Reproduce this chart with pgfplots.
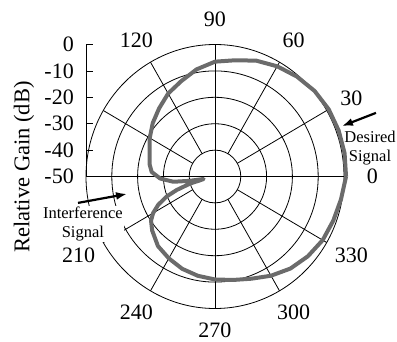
\documentclass[border=0pt]{standalone}
\usepackage{fontspec}
\setmainfont{Liberation Serif}
\usepackage{pgfplots}
\usepackage{pgfplotstable}
\pgfplotsset{compat=1.18}
\usetikzlibrary{arrows.meta}
\definecolor{curvegray}{rgb}{0.42,0.42,0.42}
\pgfplotstableread{
ang db
0 0.8
10 1.0
20 1.0
30 0.9
40 0.4
50 -0.6
60 -1.8
70 -3.3
80 -5.3
90 -6.5
100 -8.8
110 -11.6
120 -13.7
130 -16.3
140 -18.5
150 -20.8
160 -23.0
170 -24.3
176 -25.4
182 -28.7
187 -33.7
189.5 -40
192 -45.5
194 -44
195.5 -40
199 -34.3
202 -29.8
206 -25.5
210 -22.3
214 -20.1
220 -18.2
230 -15.6
240 -14.2
250 -12.8
260 -11.8
270 -11
280 -10.2
290 -8.8
300 -6.6
310 -4.5
320 -3.0
330 -1.8
340 -1.2
350 -0.4
360 0.8
}\gaindata
\tikzset{gridline/.style={black, line width=0.8pt}, lab/.style={font=\fontsize{22}{22}\selectfont, inner sep=0pt}}
\begin{document}
\begin{tikzpicture}
\begin{axis}[
  x=2.58pt, y=2.64pt,
  xmin=-50, xmax=50, ymin=0, ymax=50,
  axis x line=none, axis y line*=left,
  clip=false,
  ytick={0,10,20,30,40,50},
  yticklabels={-50,-40,-30,-20,-10,0},
  tick align=inside,
  major tick length=7pt,
  every tick/.style={black, line width=0.8pt},
  y axis line style={black, line width=0.8pt},
  yticklabel style={font=\fontsize{22}{22}\selectfont, inner sep=0pt, anchor=east, xshift=-12pt},
]
% grid circles
\draw[gridline] (axis cs:0,0) ellipse [x radius=25.8pt, y radius=26.4pt];
\draw[gridline] (axis cs:0,0) ellipse [x radius=51.6pt, y radius=52.8pt];
\draw[gridline] (axis cs:0,0) ellipse [x radius=77.4pt, y radius=79.2pt];
\draw[gridline] (axis cs:0,0) ellipse [x radius=103.2pt, y radius=105.6pt];
\draw[gridline] (axis cs:0,0) ellipse [x radius=129pt, y radius=132pt];
% spokes
\addplot[gridline, no markers] coordinates {(-50,0) (50,0)};
\addplot[gridline, no markers] coordinates {(0,50) (0,-50)};
\draw[gridline] (axis cs:8.660,5) -- (axis cs:43.301,25);
\draw[gridline] (axis cs:5,8.660) -- (axis cs:25,43.301);
\draw[gridline] (axis cs:-5,8.660) -- (axis cs:-25,43.301);
\draw[gridline] (axis cs:-8.660,5) -- (axis cs:-43.301,25);
\draw[gridline] (axis cs:-8.660,-5) -- (axis cs:-43.301,-25);
\draw[gridline] (axis cs:-5,-8.660) -- (axis cs:-25,-43.301);
\draw[gridline] (axis cs:5,-8.660) -- (axis cs:25,-43.301);
\draw[gridline] (axis cs:8.660,-5) -- (axis cs:43.301,-25);
% pattern
\addplot[curvegray, line width=4pt, line join=round, no markers, data cs=polar] table[x=ang, y expr=\thisrow{db}+50] {\gaindata};
% angle labels
\node[lab] at (axis cs:61,0) {0};
\node[lab] at (axis cs:52.83,29.75) {30};
\node[lab] at (axis cs:30.5,51.53) {60};
\node[lab] at (axis cs:0,59.5) {90};
\node[lab] at (axis cs:-30.5,51.53) {120};
\node[lab] at (axis cs:-52.83,-29.75) {210};
\node[lab] at (axis cs:-30.5,-51.53) {240};
\node[lab] at (axis cs:0,-58.3) {270};
\node[lab] at (axis cs:30.5,-51.53) {300};
\node[lab] at (axis cs:52.83,-29.75) {330};
% y label
\node[font=\fontsize{22.5}{22.5}\selectfont, inner sep=0pt, rotate=90] at (axis cs:-74.0,3.6) {Relative Gain (dB)};
% annotations
\node[align=center, font=\fontsize{16.5}{18.5}\selectfont, fill=white, inner sep=1pt] at (axis cs:-51.2,-18.0) {Interference\\Signal};
\node[align=center, font=\fontsize{16.5}{19}\selectfont, inner sep=0pt] at (axis cs:60.1,10.8) {Desired\\Signal};
\draw[line width=2.2pt, -{Latex[length=11pt,width=8pt]}] (axis cs:62.4,24.1) -- (axis cs:49.2,19.1);
\draw[line width=2.2pt, -{Latex[length=11pt,width=8pt]}] (axis cs:-53.1,-10.0) -- (axis cs:-34.1,-6.6);
\coordinate (O) at (axis cs:0,0);
\end{axis}
\pgfresetboundingbox
\path ([shift={(-215pt,-164.5pt)}]O) rectangle ([shift={(182pt,176.5pt)}]O);
\end{tikzpicture}
\end{document}
